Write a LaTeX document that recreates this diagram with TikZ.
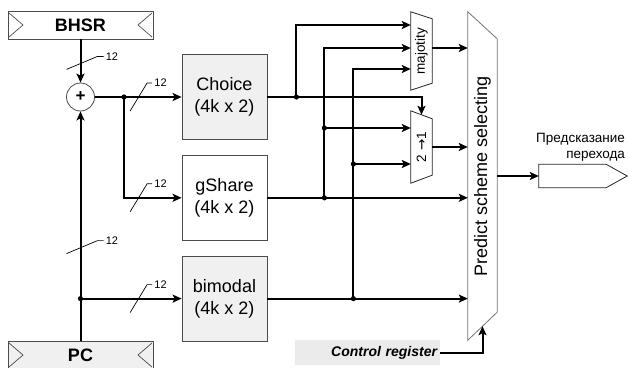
\documentclass[tikz,border=0pt]{standalone}
\usepackage{fontspec}
\setmainfont{Liberation Sans}
\newfontfamily\arrowFont{DejaVu Sans}
\usepackage{graphicx}
\usetikzlibrary{positioning,arrows.meta}
\definecolor{boxGray}{gray}{0.94}
\definecolor{ctrlGray}{gray}{0.92}
\definecolor{edgeGray}{gray}{0.3}
\definecolor{selGray}{gray}{0.45}
\tikzset{
  tableBox/.style={rectangle, fill=white, draw=edgeGray, line width=0.8pt, minimum width=85pt, minimum height=85pt, inner sep=0pt, align=center, font=\fontsize{18}{22}\selectfont},
  shadedTableBox/.style={tableBox, fill=boxGray},
  ioBox/.style={rectangle, fill=white, draw=edgeGray, line width=0.8pt, minimum width=145pt, minimum height=28pt, inner sep=0pt, font=\fontsize{18}{22}\selectfont\bfseries,
    path picture={\draw[edgeGray, line width=0.7pt]
      ([xshift=1pt,yshift=-2pt]path picture bounding box.north west) -- ([xshift=15pt]path picture bounding box.west) -- ([xshift=1pt,yshift=2pt]path picture bounding box.south west)
      ([xshift=-1pt,yshift=-2pt]path picture bounding box.north east) -- ([xshift=-15pt]path picture bounding box.east) -- ([xshift=-1pt,yshift=2pt]path picture bounding box.south east);}},
  shadedIoBox/.style={ioBox, fill=boxGray},
  adderNode/.style={circle, fill=white, draw=edgeGray, line width=0.8pt, minimum size=28pt, inner sep=0pt, font=\fontsize{17}{17}\selectfont\bfseries},
  muxNode/.style={rectangle, minimum width=21pt, inner sep=0pt, font=\fontsize{13.5}{16}\selectfont},
  muxEdge/.style={draw=black!85, line width=0.8pt},
  bus/.style={line width=2pt},
  busArrow/.style={bus, -{Stealth[length=9pt, width=8pt, inset=2pt]}},
  pics/busMark/.style={code={\draw[line width=0.7pt] (-8.5,14) -- (8.5,-14) -- (13.5,-14) node[right, inner sep=2pt, font=\fontsize{11}{11}\selectfont] {#1};}},
  pics/busMarkV/.style={code={\draw[line width=0.7pt] (-14,6) -- (17,-7) -- (23,-7) node[right, inner sep=2pt, font=\fontsize{11}{11}\selectfont] {#1};}}
}

\begin{document}
\begin{tikzpicture}[x=1pt, y=-1pt]
  \useasboundingbox (0,0) rectangle (628,367);
  \node [ioBox] (bhsr) at (80.5,25) {BHSR};
  \node [shadedIoBox] (pc) at (80.5,355) {PC};
  \node [adderNode] (adder) at (80.5,97) {+};
  \node [shadedTableBox] (choice) at (224.5,97) {Choice\\(4k x 2)};
  \node [tableBox, below=15pt of choice] (gshare) {gShare\\(4k x 2)};
  \node [shadedTableBox, below=15pt of gshare] (bimodal) {bimodal\\(4k x 2)};
  \node [muxNode, minimum height=78pt] (maj) at (421.5,51) {\rotatebox{90}{majotity}};
  \node [muxNode, minimum height=72pt] (mux2) at (421.5,147) {\rotatebox{90}{2 {\arrowFont →}1}};
  \node [rectangle, minimum width=29pt, minimum height=328pt, inner sep=0pt, font=\fontsize{18}{22}\selectfont] (sel) at (482.5,176) {\rotatebox{90}{Predict scheme selecting}};
  \node [fill=ctrlGray, minimum height=25pt, text width=139pt, inner sep=3pt, align=right, font=\fontsize{14}{16}\selectfont\bfseries\itshape] (ctrl) at (367.5,352.5) {Control register};
  \node [minimum width=88pt, minimum height=23pt, inner sep=0pt] (out) at (583,176) {};
  \node [above left=3pt and 2pt of out.north east, align=right, inner sep=0pt, font=\fontsize{13.5}{16}\selectfont] (outLabel) {Предсказание\\перехода};

  \draw [draw=selGray, line width=0.8pt] (sel.north west) -- ([yshift=-27pt]sel.north east) -- ([yshift=28pt]sel.south east) -- (sel.south west) -- cycle;
  \draw [muxEdge] (maj.north west) -- ([yshift=-7pt]maj.north east) -- ([yshift=7pt]maj.south east) -- (maj.south west) -- cycle;
  \draw [muxEdge] (mux2.north west) -- ([yshift=-8pt]mux2.north east) -- ([yshift=8pt]mux2.south east) -- (mux2.south west) -- cycle;
  \draw [muxEdge] (out.north west) -- ([xshift=-21pt]out.north east) -- (out.east) -- ([xshift=-21pt]out.south east) -- (out.south west) -- cycle;

  \coordinate (jA) at (124,97);
  \coordinate (jPC) at (adder |- bimodal);
  \coordinate (jChoice) at ([xshift=29pt]choice.east);
  \coordinate (jG) at ([xshift=57pt]gshare.east);
  \coordinate (jB) at ([xshift=86pt]bimodal.east);
  \coordinate (jG2) at (jG |- 0,128);
  \coordinate (jB2) at (jB |- 0,164);

  \draw [busArrow] (bhsr) -- (adder);
  \draw [busArrow] (pc) -- (adder);
  \draw [busArrow] (adder) -- (choice);
  \draw [busArrow] (jA) |- (gshare);
  \draw [busArrow] (jPC) -- (bimodal);
  \draw [busArrow] (choice) -| ([yshift=-4pt]mux2.north);
  \draw [busArrow] (jChoice) |- ([yshift=26pt]maj.west);
  \draw [busArrow] (jG) |- ([yshift=3pt]maj.west);
  \draw [busArrow] (jB) |- ([yshift=-18pt]maj.west);
  \draw [busArrow] (jG2) -- (jG2 -| mux2.west);
  \draw [busArrow] (jB2) -- (jB2 -| mux2.west);
  \draw [busArrow] ([yshift=3pt]maj.east) -- ([yshift=3pt]maj.east -| sel.west);
  \draw [busArrow] (mux2) -- (mux2 -| sel.west);
  \draw [busArrow] (gshare) -- (gshare -| sel.west);
  \draw [busArrow] (bimodal) -- (bimodal -| sel.west);
  \draw [busArrow] (ctrl) -| ([yshift=14pt]sel.south);
  \draw [busArrow] (sel) -- (out);
  \foreach \j in {jA,jPC,jChoice,jG,jG2,jB,jB2}
    \fill (\j) circle (2.6pt);

  \pic at ([yshift=-24pt]bhsr.south) {busMarkV=12};
  \pic at ([yshift=93pt]pc.north) {busMarkV=12};
  \pic at ([xshift=-43pt]choice.west) {busMark=12};
  \pic at ([xshift=-43pt]gshare.west) {busMark=12};
  \pic at ([xshift=-43pt]bimodal.west) {busMark=12};
\end{tikzpicture}
\end{document}
